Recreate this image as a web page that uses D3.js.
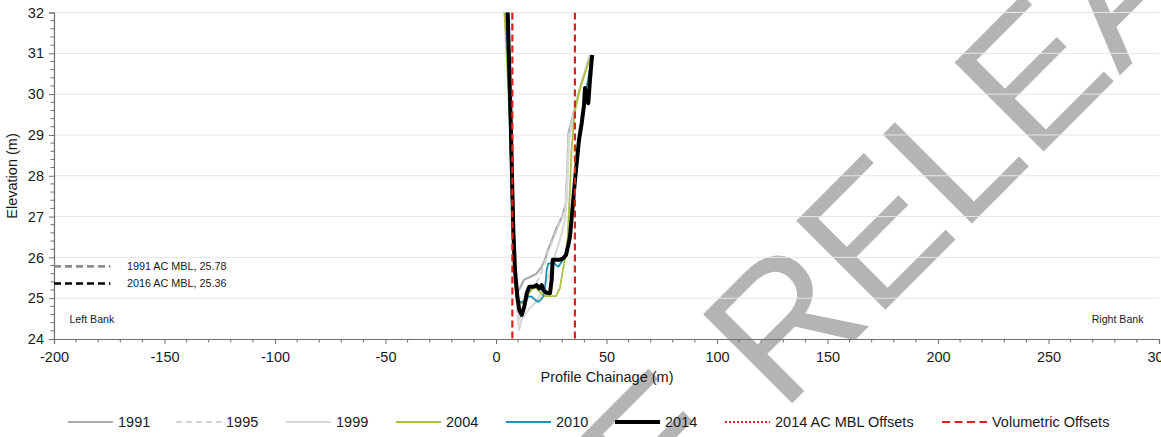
<!DOCTYPE html>
<html><head><meta charset="utf-8">
<script src="https://cdn.jsdelivr.net/npm/d3@7"></script>
<style>
body{margin:0;background:#fff}
svg{display:block;font-family:"Liberation Sans",Arial,sans-serif}
</style>
</head><body><svg id="c" width="1161" height="437"></svg>
<script>
// ---------- data ----------
const years = ["1991","1995","1999","2004","2010","2014"];
const s1991 = [[4.98,32.18],[6.33,29.61],[7.47,26.92],[8.37,25.69],[9.5,25.13],[10.86,25.25],[12.67,25.45],[15.38,25.52],[18.1,25.59],[20.36,25.74],[22.17,25.94],[23.53,26.18],[25.34,26.43],[27.15,26.69],[29.86,26.99],[31.67,27.33],[32.35,28.26],[32.81,29.05],[34.39,29.37],[36.65,29.86],[38.46,30.22],[42.53,30.96]];
const s1995 = [[5.2,32.18],[6.56,29.61],[7.69,26.92],[8.6,25.45],[9.5,24.71],[10.41,24.42],[11.76,24.71],[13.57,24.96],[15.38,25.15],[17.65,25.32],[19.91,25.54],[21.72,25.81],[23.53,26.13],[25.79,26.43],[28.96,26.87],[31.22,27.16],[32.13,28.02],[32.81,29.0],[34.84,29.41],[38.01,30.15],[42.53,30.96]];
const s1999 = [[5.43,32.18],[6.79,29.61],[7.92,26.92],[9.05,25.2],[9.95,24.51],[10.41,24.22],[11.54,24.47],[13.12,24.59],[15.38,24.76],[17.65,24.88],[19.91,25.05],[22.17,25.32],[24.43,25.64],[26.7,26.06],[28.96,26.43],[31.22,26.92],[32.13,27.65],[33.03,28.88],[35.29,29.49],[38.01,30.15],[42.53,30.96]];
const s2004 = [[3.62,32.18],[4.98,30.84],[6.33,29.12],[7.47,26.92],[8.37,25.69],[9.28,25.08],[10.86,24.88],[12.67,24.88],[14.03,24.96],[14.93,25.13],[16.74,25.25],[18.1,25.25],[19.91,25.15],[21.72,25.05],[24.43,25.05],[27.15,25.05],[28.96,25.25],[30.09,25.64],[31.22,25.96],[32.35,26.43],[33.48,27.65],[34.16,28.63],[35.75,29.61],[38.01,30.15],[42.99,30.96]];
const s2010 = [[4.52,32.18],[6.11,29.61],[7.47,26.67],[8.6,25.4],[9.64,24.91],[11.63,24.91],[13.12,24.94],[14.62,25.04],[16.15,25.04],[17.65,24.96],[19.14,24.91],[20.23,24.96],[21.4,25.04],[22.17,25.24],[22.94,25.69],[23.67,25.85],[25.2,25.85],[25.93,25.89],[27.15,25.81],[28.19,25.77],[29.73,25.89],[31.22,26.02],[32.26,26.22],[33.48,26.52],[35.75,27.77],[37.56,28.75],[38.91,29.41],[40.27,29.98],[41.63,30.35],[42.99,30.79]];
const s2014 = [[5.2,32.18],[6.65,29.37],[7.83,26.67],[8.6,25.69],[9.64,25.04],[10.54,24.71],[11.63,24.59],[12.8,24.79],[13.9,25.12],[15.07,25.28],[16.88,25.28],[18.42,25.32],[19.6,25.24],[20.68,25.32],[21.4,25.2],[22.94,25.13],[24.43,25.12],[25.2,25.45],[25.66,25.94],[28.96,25.94],[30.45,25.98],[31.67,26.06],[32.71,26.3],[33.48,26.51],[35.75,27.9],[37.56,28.88],[38.78,29.29],[39.82,29.73],[40.27,30.15],[41.04,29.86],[41.76,29.78],[42.53,30.35],[43.3,30.84],[43.57,30.96]];
const seriesData = [s1991, s1995, s1999, s2004, s2010, s2014];

const volumetricOffsets = [7.4, 35.7];
const mblLabels = ["1991 AC MBL, 25.78", "2016 AC MBL, 25.36"];
const mblValues = [25.78, 25.36];
const mblExtent = [-200, -174.5];
const bankLabels = ["Left Bank", "Right Bank"];
const xTicks = [-200,-150,-100,-50,0,50,100,150,200,250,300];
const yTicks = [24,25,26,27,28,29,30,31,32];
const legendLabels = ["1991","1995","1999","2004","2010","2014","2014 AC MBL Offsets","Volumetric Offsets"];
const xTitle = "Profile Chainage (m)";
const yTitle = "Elevation (m)";
const watermarkBefore = "PRE ";
const watermarkText = "RELEASE";

// ---------- styles ----------
const styles = [
  {color:"#ababab", width:2.2, dash:null},
  {color:"#d2d2d2", width:2, dash:"6,4"},
  {color:"#d9d9d9", width:2.2, dash:null},
  {color:"#a8c23c", width:1.8, dash:null},
  {color:"#1f93b5", width:1.8, dash:null},
  {color:"#000000", width:4, dash:null}
];
const RED = "#e0201e";

const svg = d3.select("#c");
const x = d3.scaleLinear().domain([-200,300]).range([54,1159]);
const y = d3.scaleLinear().domain([24,32]).range([339,12.5]);

// watermark
const wm = svg.append("g").attr("transform","translate(781.4,413.7) rotate(-45)")
  .attr("fill","#b4b4b4").style("font-size","183px");
wm.append("text").attr("text-anchor","end").text(watermarkBefore).style("white-space","pre");
wm.append("text").attr("text-anchor","start").text(watermarkText);

// gridlines
svg.append("g").selectAll("line").data(yTicks.filter(d=>d>24)).join("line")
  .attr("x1",x(-200)).attr("x2",x(300)).attr("y1",d=>y(d)).attr("y2",d=>y(d))
  .attr("stroke","#e6e6e6").attr("stroke-width",1);

// axes
const axisColor = "#6e6e6e";
const xAxis = svg.append("g").attr("transform",`translate(0,${y(24)})`)
  .call(d3.axisBottom(x).tickValues(xTicks).tickSize(5).tickFormat(d=>d<0?"-"+Math.abs(d):d));
const yAxis = svg.append("g").attr("transform",`translate(${x(-200)},0)`)
  .call(d3.axisLeft(y).tickValues(yTicks).tickSize(5).tickFormat(d3.format("d")));
[xAxis,yAxis].forEach(a=>{
  a.select(".domain").attr("stroke",axisColor).attr("stroke-width",1.2);
  a.selectAll(".tick line").attr("stroke",axisColor);
  a.selectAll(".tick text").attr("fill","#1a1a1a").style("font-size","14.5px").style("font-family","'Liberation Sans',Arial,sans-serif");
});
xAxis.selectAll(".tick text").attr("dy","1.05em");
yAxis.selectAll(".tick text").attr("x",-10);
// minor ticks
const xMinor = d3.range(-200,301,10).filter(v=>v%50!==0);
svg.append("g").selectAll("line").data(xMinor).join("line")
  .attr("x1",d=>x(d)).attr("x2",d=>x(d)).attr("y1",y(24)).attr("y2",y(24)+3.5)
  .attr("stroke",axisColor);
const yMinor = d3.range(24,32.001,0.2).filter(v=>Math.abs(v-Math.round(v))>0.01);
svg.append("g").selectAll("line").data(yMinor).join("line")
  .attr("x1",x(-200)-3.5).attr("x2",x(-200)).attr("y1",d=>y(d)).attr("y2",d=>y(d))
  .attr("stroke",axisColor);

// titles
svg.append("text").attr("x",607).attr("y",382).attr("text-anchor","middle")
  .attr("fill","#1a1a1a").style("font-size","14.5px").text(xTitle);
svg.append("text").attr("transform","translate(17,176) rotate(-90)").attr("text-anchor","middle")
  .attr("fill","#1a1a1a").style("font-size","14.5px").text(yTitle);

// clip
svg.append("defs").append("clipPath").attr("id","plot").append("rect")
  .attr("x",x(-200)).attr("y",y(32)).attr("width",x(300)-x(-200)).attr("height",y(24)-y(32));

// MBL lines + labels
const mblColors = ["#8c8c8c","#000000"];
mblValues.forEach((v,i)=>{
  svg.append("line").attr("x1",x(mblExtent[0])).attr("x2",x(mblExtent[1]))
    .attr("y1",y(v)).attr("y2",y(v)).attr("stroke",mblColors[i]).attr("stroke-width",2.6)
    .attr("stroke-dasharray","7,4");
  svg.append("text").attr("x",x(-167)).attr("y",y(v)+3.8).attr("fill","#1a1a1a")
    .style("font-size","10.8px").text(mblLabels[i]);
});
svg.append("text").attr("x",x(-193)).attr("y",y(24.5)+4).attr("fill","#1a1a1a").style("font-size","10.6px").text(bankLabels[0]);
svg.append("text").attr("x",x(293)).attr("y",y(24.5)+4).attr("text-anchor","end").attr("fill","#1a1a1a").style("font-size","10.6px").text(bankLabels[1]);

// series
const line = d3.line().x(d=>x(d[0])).y(d=>y(d[1])).curve(d3.curveLinear);
const sg = svg.append("g").attr("clip-path","url(#plot)");
seriesData.forEach((s,i)=>{
  sg.append("path").attr("d",line(s)).attr("fill","none")
    .attr("stroke",styles[i].color).attr("stroke-width",styles[i].width)
    .attr("stroke-dasharray",styles[i].dash).attr("stroke-linejoin","round");
});
// volumetric offsets
sg.selectAll("line.vo").data(volumetricOffsets).join("line").attr("class","vo")
  .attr("x1",d=>x(d)).attr("x2",d=>x(d)).attr("y1",y(32)).attr("y2",y(24))
  .attr("stroke",RED).attr("stroke-width",2.2).attr("stroke-dasharray","7,4");

// legend
const legX = [68,176,286,396,506,615,725,942];
const legStyles = styles.concat([{color:RED,width:2,dash:"2,2"},{color:RED,width:2.2,dash:"8,4.5"}]);
const lg = svg.append("g");
legendLabels.forEach((lab,i)=>{
  const st = legStyles[i];
  lg.append("line").attr("x1",legX[i]).attr("x2",legX[i]+45).attr("y1",422).attr("y2",422)
    .attr("stroke",st.color).attr("stroke-width",st.width).attr("stroke-dasharray",st.dash);
  lg.append("text").attr("x",legX[i]+50).attr("y",427).attr("fill","#1a1a1a")
    .style("font-size","14.5px").text(lab);
});
</script></body></html>
